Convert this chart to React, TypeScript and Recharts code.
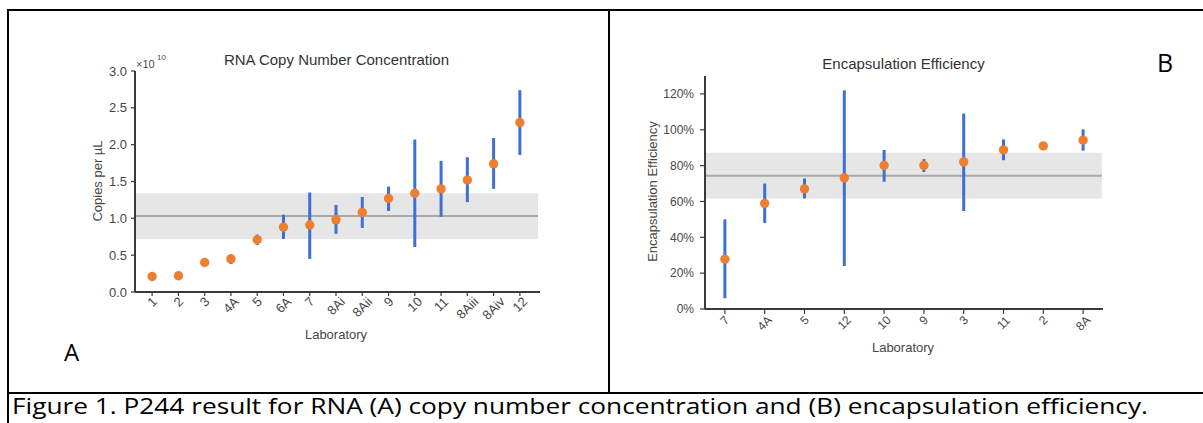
import React from 'react';
import {
  ComposedChart,
  Scatter,
  ErrorBar,
  XAxis,
  YAxis,
  ReferenceArea,
  ReferenceLine,
} from 'recharts';

// ---------- Panel A: RNA copy number concentration (x 1e10 copies per µL) ----------
const labsA = ['1', '2', '3', '4A', '5', '6A', '7', '8Ai', '8Aii', '9', '10', '11', '8Aiii', '8Aiv', '12'];
const meanA = [0.21, 0.22, 0.40, 0.45, 0.71, 0.88, 0.91, 0.98, 1.08, 1.27, 1.34, 1.40, 1.52, 1.74, 2.30];
const lowA = [0.15, 0.18, 0.38, 0.38, 0.64, 0.72, 0.45, 0.79, 0.87, 1.10, 0.61, 1.02, 1.22, 1.40, 1.86];
const highA = [0.27, 0.26, 0.42, 0.51, 0.78, 1.05, 1.35, 1.18, 1.29, 1.43, 2.07, 1.78, 1.83, 2.09, 2.74];
const bandA = [0.72, 1.34];
const refA = 1.03;
const ticksA = [0, 0.5, 1.0, 1.5, 2.0, 2.5, 3.0];

// ---------- Panel B: Encapsulation efficiency (fraction) ----------
const labsB = ['7', '4A', '5', '12', '10', '9', '3', '11', '2', '8A'];
const meanB = [0.278, 0.589, 0.67, 0.732, 0.801, 0.801, 0.821, 0.888, 0.91, 0.942];
const lowB = [0.06, 0.48, 0.617, 0.24, 0.71, 0.764, 0.547, 0.83, 0.91, 0.883];
const highB = [0.50, 0.70, 0.728, 1.22, 0.887, 0.836, 1.09, 0.946, 0.91, 1.002];
const bandB = [0.617, 0.872];
const refB = 0.743;
const ticksB = [0, 0.2, 0.4, 0.6, 0.8, 1.0, 1.2];

const BLUE = '#3d6fd4';
const ORANGE = '#ee7f30';
const AXIS = '#3a3a3a';
const TXT = '#474747';
const FONT = '"Liberation Sans", Arial, Helvetica, sans-serif';

const buildTable = (labs: string[], mean: number[], low: number[], high: number[]) =>
  labs.map((lab, i) => ({
    lab,
    mean: mean[i],
    err: [mean[i] - low[i], high[i] - mean[i]],
  }));

const dataA = buildTable(labsA, meanA, lowA, highA);
const dataB = buildTable(labsB, meanB, lowB, highB);

const CW: Record<string, number> = { A: 0.667, i: 0.222, v: 0.5 };
const textW = (s: string, fs: number) => {
  let w = 0;
  for (const c of s) w += CW[c] ?? 0.556;
  return w * fs;
};

const makeTick = (fs: number, top: number) => (props: any) => {
  const { x, y, payload } = props;
  const s = String(payload.value);
  const w = textW(s, fs);
  const h = fs * 0.72;
  const cy = y + top + (w + h) * 0.3536;
  return (
    <text
      x={x}
      y={cy}
      transform={`rotate(-45 ${x} ${cy})`}
      textAnchor="middle"
      dominantBaseline="central"
      fontSize={fs}
      fill={TXT}
      fontFamily={FONT}
    >
      {s}
    </text>
  );
};

const Dot = (p: any) => <circle cx={p.cx} cy={p.cy} r={4.7} fill={ORANGE} />;

const TickA = makeTick(13, -2);
const TickB = makeTick(12, -1);

const half = () => 0.5;

export default function App() {
  return (
    <div
      style={{
        position: 'absolute',
        left: 0,
        top: 0,
        width: 1203,
        height: 423,
        background: '#fff',
        overflow: 'hidden',
      }}
    >
      {/* Panel A */}
      <div style={{ position: 'absolute', left: 0, top: 0, width: 609, height: 390 }}>
        <ComposedChart
          width={609}
          height={390}
          data={dataA}
          margin={{ top: 71, right: 69, bottom: 48, left: 75 }}
        >
          <XAxis xAxisId="full" type="number" dataKey={half} domain={[0, 1]} allowDataOverflow hide />
          <XAxis
            dataKey="lab"
            type="category"
            scale="band"
            interval={0}
            padding={{ left: 4, right: 7 }}
            height={50}
            axisLine={{ stroke: AXIS, strokeWidth: 2 }}
            tickLine={{ stroke: AXIS, strokeWidth: 1.2 }}
            tickSize={4}
            tick={TickA}
          />
          <YAxis
            type="number"
            domain={[0, 3]}
            ticks={ticksA}
            allowDataOverflow
            width={60}
            axisLine={{ stroke: AXIS, strokeWidth: 2 }}
            tickLine={{ stroke: AXIS, strokeWidth: 1.2 }}
            tickSize={4}
            tickMargin={4}
            tick={{ fontSize: 13, fill: TXT, fontFamily: FONT }}
            tickFormatter={(v: number) => v.toFixed(1)}
          />
          <ReferenceArea
            xAxisId="full"
            x1={0}
            x2={0.995}
            y1={bandA[0]}
            y2={bandA[1]}
            fill="#e6e6e6"
            fillOpacity={1}
            stroke="none"
          />
          <ReferenceLine
            xAxisId="full"
            segment={[{ x: 0, y: refA }, { x: 0.995, y: refA }]}
            stroke="#a9a9a9"
            strokeWidth={2}
          />
          <Scatter dataKey="mean" isAnimationActive={false} shape={Dot}>
            <ErrorBar dataKey="err" direction="y" width={0} stroke={BLUE} strokeWidth={3} />
          </Scatter>
        </ComposedChart>
      </div>

      {/* Panel B */}
      <div style={{ position: 'absolute', left: 610, top: 0, width: 593, height: 390 }}>
        <ComposedChart
          width={593}
          height={390}
          data={dataB}
          margin={{ top: 76, right: 100, bottom: 31, left: 35 }}
        >
          <XAxis xAxisId="full" type="number" dataKey={half} domain={[0, 1]} allowDataOverflow hide />
          <XAxis
            dataKey="lab"
            type="category"
            scale="band"
            interval={0}
            padding={{ left: 0, right: 0 }}
            height={50}
            axisLine={{ stroke: AXIS, strokeWidth: 2 }}
            tickLine={{ stroke: AXIS, strokeWidth: 1.2 }}
            tickSize={5}
            tick={TickB}
          />
          <YAxis
            type="number"
            domain={[0, 1.3]}
            ticks={ticksB}
            allowDataOverflow
            width={60}
            axisLine={{ stroke: AXIS, strokeWidth: 2 }}
            tickLine={{ stroke: AXIS, strokeWidth: 1.2 }}
            tickSize={5}
            tickMargin={6}
            tick={{ fontSize: 12, fill: TXT, fontFamily: FONT }}
            tickFormatter={(v: number) => `${Math.round(v * 100)}%`}
          />
          <ReferenceArea
            xAxisId="full"
            x1={0}
            x2={0.997}
            y1={bandB[0]}
            y2={bandB[1]}
            fill="#e6e6e6"
            fillOpacity={1}
            stroke="none"
          />
          <ReferenceLine
            xAxisId="full"
            segment={[{ x: 0, y: refB }, { x: 0.997, y: refB }]}
            stroke="#a9a9a9"
            strokeWidth={2}
          />
          <Scatter dataKey="mean" isAnimationActive={false} shape={Dot}>
            <ErrorBar dataKey="err" direction="y" width={0} stroke={BLUE} strokeWidth={3} />
          </Scatter>
        </ComposedChart>
      </div>

      {/* Overlay: frame, titles, labels, caption */}
      <svg
        width={1203}
        height={423}
        style={{ position: 'absolute', left: 0, top: 0, pointerEvents: 'none' }}
      >
        <g stroke="#000" strokeWidth={2} fill="none">
          <line x1={8} y1={10} x2={1203} y2={10} />
          <line x1={8} y1={9} x2={8} y2={423} />
          <line x1={609} y1={10} x2={609} y2={393} />
          <line x1={8} y1={393} x2={1203} y2={393} />
        </g>

        <g fontFamily={FONT} fill="#333">
          <text x={336.5} y={65} fontSize={15} textAnchor="middle">
            RNA Copy Number Concentration
          </text>
          <text x={136} y={68} fontSize={11} fill={TXT}>
            ×10
          </text>
          <text x={157} y={60} fontSize={8} fill={TXT}>
            10
          </text>
          <text
            x={97}
            y={181}
            fontSize={13}
            fill={TXT}
            textAnchor="middle"
            dominantBaseline="central"
            transform="rotate(-90 97 181)"
          >
            Copies per µL
          </text>
          <text x={336} y={339} fontSize={13} fill={TXT} textAnchor="middle">
            Laboratory
          </text>

          <text x={903.5} y={69} fontSize={15} textAnchor="middle">
            Encapsulation Efficiency
          </text>
          <text
            x={652}
            y={191.5}
            fontSize={13}
            fill={TXT}
            textAnchor="middle"
            dominantBaseline="central"
            transform="rotate(-90 652 191.5)"
          >
            Encapsulation Efficiency
          </text>
          <text x={903} y={352} fontSize={13} fill={TXT} textAnchor="middle">
            Laboratory
          </text>
        </g>

        <g fontFamily='"Open Sans", "Noto Sans", sans-serif' fill="#000">
          <text x={64} y={361} fontSize={24}>
            A
          </text>
          <text x={1157} y={72} fontSize={25}>
            B
          </text>
          <text
            x={12}
            y={414}
            fontSize={21}
            textLength={1136}
            lengthAdjust="spacingAndGlyphs"
          >
            Figure 1. P244 result for RNA (A) copy number concentration and (B) encapsulation efficiency.
          </text>
        </g>
      </svg>
    </div>
  );
}
